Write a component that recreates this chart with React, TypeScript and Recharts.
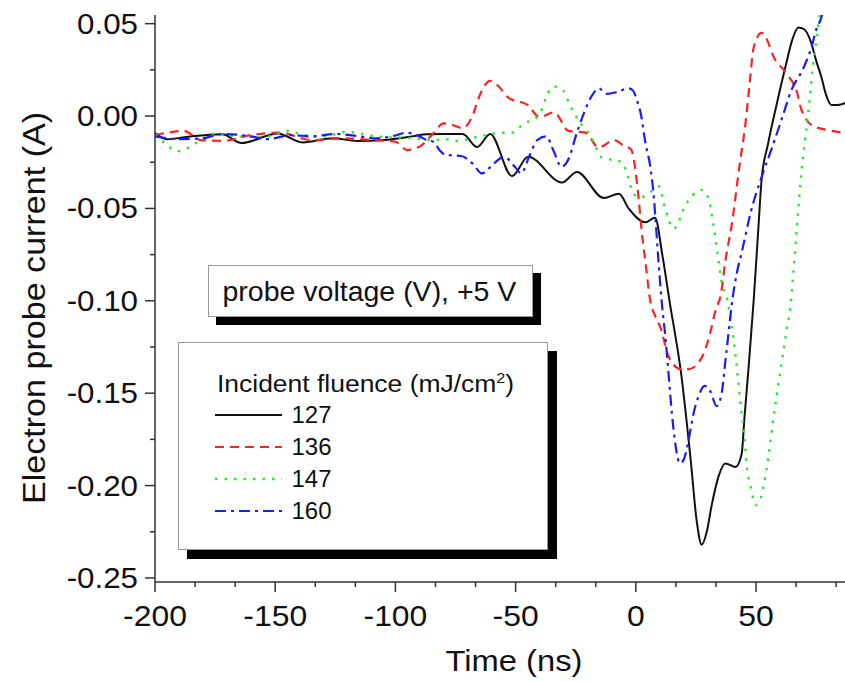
import React from "react";
import { LineChart, Line, XAxis, YAxis, Legend, Label } from "recharts";

// time (ns) and current (A), one pair of arrays per fluence
const t127 = [-200, -195, -185.5, -172, -164, -149, -138.6, -126, -116, -105, -93, -87, -80, -72, -66, -60.6, -51.5, -44.8, -30.7, -24.5, -13.3, -7, -3, 4, 8, 11, 14, 19, 22.8, 25.3, 27.4, 29.5, 31.5, 34.4, 37.3, 41.4, 44, 45.2, 46.9, 49, 51, 52.3, 55, 58, 62.2, 65, 67.6, 70, 73, 75, 77.2, 79, 81.3, 84, 88];
const i127 = [-0.0092, -0.0125, -0.011, -0.0098, -0.0146, -0.0094, -0.0143, -0.012, -0.0135, -0.013, -0.011, -0.0098, -0.0097, -0.0097, -0.0168, -0.0097, -0.0325, -0.022, -0.036, -0.0303, -0.0444, -0.042, -0.05, -0.0575, -0.055, -0.075, -0.1, -0.141, -0.186, -0.219, -0.232, -0.225, -0.211, -0.195, -0.188, -0.19, -0.183, -0.163, -0.136, -0.1, -0.06, -0.0346, -0.015, 0.003, 0.0265, 0.041, 0.048, 0.047, 0.0395, 0.03, 0.021, 0.012, 0.006, 0.006, 0.0076];

const t136 = [-200, -195, -188, -181, -172, -160, -148, -135, -122, -110, -100, -95, -89, -84, -80, -76, -72, -68, -65, -60.6, -57, -53, -45, -40, -34, -28, -21, -15.4, -9, -5, -2, 0, 1.2, 2.5, 4, 6, 8, 10.4, 13.3, 16, 18.7, 22, 25.7, 29, 31, 33.2, 35.3, 37.3, 40, 43, 45.6, 47.3, 49, 52.3, 55, 57, 62.7, 67, 69, 74, 81.7, 88];
const i136 = [-0.0103, -0.009, -0.008, -0.013, -0.0134, -0.0103, -0.009, -0.013, -0.012, -0.013, -0.0139, -0.0184, -0.0157, -0.009, -0.004, -0.005, -0.0065, 0.0, 0.011, 0.019, 0.016, 0.01, 0.006, -0.0005, 0.002, -0.008, -0.009, -0.017, -0.013, -0.016, -0.018, -0.031, -0.045, -0.063, -0.079, -0.1, -0.108, -0.115, -0.129, -0.135, -0.137, -0.137, -0.134, -0.126, -0.117, -0.105, -0.097, -0.078, -0.058, -0.028, -0.004, 0.017, 0.037, 0.045, 0.04, 0.033, 0.023, 0.013, 0.003, -0.0055, -0.008, -0.0095];

const t147 = [-200, -196, -190.5, -186, -181, -176, -165, -155, -144, -139, -130, -120, -108, -93, -84.6, -79, -74.7, -65, -56, -51.5, -46.5, -41.5, -39, -37.3, -34, -30, -27.8, -25.7, -22.4, -18.7, -16.6, -14, -9, -5.8, -3.7, -1, 2, 6.2, 9.5, 12.4, 15.8, 20.7, 27.4, 30.3, 32.4, 34.4, 35.7, 37.8, 39.8, 41.5, 42.7, 44, 45.2, 46, 47.7, 49.8, 51.9, 54, 56, 57.3, 58.5, 60, 61.4, 62.7, 64.3, 65.5, 67, 68.9, 70.5, 72, 73.5, 75, 76, 77.5];
const i147 = [-0.01, -0.0146, -0.019, -0.017, -0.013, -0.0097, -0.011, -0.0115, -0.008, -0.01, -0.011, -0.0085, -0.011, -0.012, -0.013, -0.0125, -0.0135, -0.011, -0.009, -0.009, -0.004, -0.001, 0.004, 0.0103, 0.016, 0.0135, 0.007, 0.0016, -0.005, -0.011, -0.0168, -0.0227, -0.0238, -0.025, -0.031, -0.042, -0.044, -0.041, -0.038, -0.051, -0.061, -0.048, -0.04, -0.045, -0.06, -0.078, -0.09, -0.098, -0.113, -0.13, -0.145, -0.161, -0.174, -0.188, -0.2, -0.2105, -0.207, -0.194, -0.176, -0.163, -0.152, -0.139, -0.127, -0.116, -0.103, -0.085, -0.06, -0.03, -0.012, 0.005, 0.025, 0.04, 0.05, 0.064];

const t160 = [-200, -190, -180, -172, -160, -153.5, -143, -135, -124.5, -115, -108, -100, -95.6, -90, -87, -84, -81.7, -79, -72.6, -68, -64, -59, -54.8, -50, -47.7, -44.4, -41, -37.3, -34, -31, -27.8, -25, -21.6, -18.3, -15.4, -12, -7.9, -2.9, -1, 0.4, 2, 4, 6.2, 7.5, 8.3, 9.5, 10.8, 12.4, 13.7, 15, 16.6, 18.3, 19.9, 22, 24, 26, 28.6, 31, 33.6, 35.7, 37.3, 38.6, 39.8, 42, 44, 48, 52.3, 56.4, 60.6, 64.7, 69.7, 73, 75.1, 76.8, 79];
const i160 = [-0.011, -0.0125, -0.012, -0.0097, -0.011, -0.0125, -0.0103, -0.011, -0.0097, -0.011, -0.012, -0.0105, -0.009, -0.011, -0.013, -0.014, -0.0184, -0.021, -0.0216, -0.0256, -0.031, -0.0256, -0.022, -0.028, -0.031, -0.022, -0.013, -0.011, -0.0195, -0.0275, -0.0227, -0.011, 0.0016, 0.011, 0.015, 0.012, 0.013, 0.015, 0.0135, 0.0087, 0.0016, -0.0146, -0.029, -0.044, -0.058, -0.08, -0.101, -0.121, -0.141, -0.161, -0.179, -0.188, -0.186, -0.175, -0.161, -0.152, -0.146, -0.149, -0.157, -0.15, -0.132, -0.117, -0.103, -0.085, -0.074, -0.051, -0.033, -0.018, -0.002, 0.014, 0.026, 0.037, 0.047, 0.052, 0.062];

const xMajor = [-200, -150, -100, -50, 0, 50];
const xMinor = [-183.33, -166.67, -133.33, -116.67, -83.33, -66.67, -33.33, -16.67, 16.67, 33.33, 66.67, 83.33];
const yMajor = [0.05, 0, -0.05, -0.1, -0.15, -0.2, -0.25];
const yMinor = [0.025, -0.025, -0.075, -0.125, -0.175, -0.225];

const toRows = (t: number[], v: number[]) => t.map((x, k) => ({ t: x, v: v[k] }));

const series = [
  { name: "127", data: toRows(t127, i127), color: "#111111", dash: undefined, width: 2 },
  { name: "136", data: toRows(t136, i136), color: "#ff2020", dash: "9 6", width: 2.2 },
  { name: "147", data: toRows(t147, i147), color: "#22ee22", dash: "2.5 7", width: 2.4 },
  { name: "160", data: toRows(t160, i160), color: "#1a1aff", dash: "11 5 3 5", width: 2.2 },
];

// the original lettering is a little wider than Liberation Sans, so it is stretched a bit
const font = "'Liberation Sans', Arial, sans-serif";
const axisColor = "#333";
const textColor = "#111";

const xTicks = [...xMajor, ...xMinor].sort((a, b) => a - b);
const yTicks = [...yMajor, ...yMinor].sort((a, b) => a - b);

function BottomTick(props: any) {
  const { x, y, payload } = props;
  const major = xMajor.includes(payload.value);
  return (
    <g>
      <line x1={x} x2={x} y1={y} y2={y + (major ? 10 : 5)} stroke={axisColor} strokeWidth={1.5} />
      {major && (
        <text transform={`translate(${x},${y + 44}) scale(1.1,1)`} textAnchor="middle" fontSize={29} fontFamily={font} fill={textColor}>
          {payload.value}
        </text>
      )}
    </g>
  );
}

function TopTick(props: any) {
  const { x, y } = props;
  return <line x1={x} x2={x} y1={y} y2={y + 6} stroke={axisColor} strokeWidth={1.5} />;
}

function LeftTick(props: any) {
  const { x, y, payload } = props;
  const major = yMajor.includes(payload.value);
  return (
    <g>
      <line x1={x - (major ? 10 : 5)} x2={x} y1={y} y2={y} stroke={axisColor} strokeWidth={1.5} />
      {major && (
        <text transform={`translate(${x - 17},${y + 10}) scale(1.08,1)`} textAnchor="end" fontSize={29} fontFamily={font} fill={textColor}>
          {payload.value.toFixed(2)}
        </text>
      )}
    </g>
  );
}

function FluenceLegend(props: any) {
  const items = (props.payload || []).map((p: any) => series.find((s) => s.name === p.value)).filter(Boolean);
  return (
    <div
      style={{
        position: "relative",
        width: 370,
        height: 208,
        boxSizing: "border-box",
        border: "1.5px solid #999",
        background: "#fff",
        boxShadow: "9px 9px 0 #000",
        fontFamily: font,
        color: textColor,
      }}
    >
      <div
        style={{
          position: "absolute",
          left: 37.5,
          top: 27,
          fontSize: 23,
          whiteSpace: "nowrap",
          transform: "scaleX(1.15)",
          transformOrigin: "left center",
        }}
      >
        Incident fluence (mJ/cm<sup style={{ fontSize: 14 }}>2</sup>)
      </div>
      {items.map((s: any, k: number) => (
        <div
          key={s.name}
          style={{ position: "absolute", left: 35.5, top: 58 + k * 32, height: 28, display: "flex", alignItems: "center" }}
        >
          <svg width={67} height={10}>
            <line x1={0} x2={67} y1={5} y2={5} stroke={s.color} strokeWidth={s.width} strokeDasharray={s.dash} />
          </svg>
          <span style={{ fontSize: 24, marginLeft: 10 }}>{s.name}</span>
        </div>
      ))}
    </div>
  );
}

export default function App() {
  return (
    <div style={{ position: "absolute", left: 0, top: 0, width: 845, height: 682, background: "#fff", overflow: "hidden" }}>
      <LineChart width={845} height={682} margin={{ top: 15, right: 0, bottom: 0, left: 0 }}>
        <XAxis
          xAxisId="main"
          dataKey="t"
          type="number"
          domain={[-200, 87]}
          allowDataOverflow
          ticks={xTicks}
          interval={0}
          height={100}
          tickSize={0}
          tickMargin={0}
          tickLine={false}
          tick={<BottomTick />}
          axisLine={{ stroke: axisColor, strokeWidth: 1.5 }}
        >
          <Label
            content={() => (
              <text transform="translate(514,671) scale(1.09,1)" textAnchor="middle" fontSize={30} fontFamily={font} fill={textColor}>
                Time (ns)
              </text>
            )}
          />
        </XAxis>
        <XAxis
          xAxisId="top"
          orientation="top"
          dataKey="t"
          type="number"
          domain={[-200, 87]}
          allowDataOverflow
          ticks={xTicks}
          interval={0}
          height={0}
          tickSize={0}
          tickMargin={0}
          tickLine={false}
          tick={<TopTick />}
          axisLine={{ stroke: axisColor, strokeWidth: 1.5 }}
        />
        <YAxis
          type="number"
          domain={[-0.2522, 0.0547]}
          allowDataOverflow
          ticks={yTicks}
          interval={0}
          width={155}
          tickSize={0}
          tickMargin={0}
          tickLine={false}
          tick={<LeftTick />}
          axisLine={{ stroke: axisColor, strokeWidth: 1.5 }}
        >
          <Label
            content={() => (
              <text transform="translate(45,308) rotate(-90) scale(1.1,1)" textAnchor="middle" fontSize={31} fontFamily={font} fill={textColor}>
                Electron probe current (A)
              </text>
            )}
          />
        </YAxis>
        {series.map((s) => (
          <Line
            key={s.name}
            xAxisId="main"
            data={s.data}
            dataKey="v"
            name={s.name}
            type="monotone"
            stroke={s.color}
            strokeWidth={s.width}
            strokeDasharray={s.dash}
            dot={false}
            activeDot={false}
            isAnimationActive={false}
          />
        ))}
        <Legend
          layout="vertical"
          align="center"
          verticalAlign="middle"
          wrapperStyle={{ left: 178, top: 342, width: 370, height: 208 }}
          content={<FluenceLegend />}
        />
      </LineChart>
      <div
        style={{
          position: "absolute",
          left: 208,
          top: 265,
          width: 325,
          height: 52,
          boxSizing: "border-box",
          border: "1.5px solid #999",
          background: "#fff",
          boxShadow: "8px 8px 0 #000",
          fontFamily: font,
          fontSize: 28.5,
          lineHeight: "51px",
          paddingLeft: 13.5,
          color: textColor,
          whiteSpace: "nowrap",
        }}
      >
        probe voltage (V), +5 V
      </div>
    </div>
  );
}
